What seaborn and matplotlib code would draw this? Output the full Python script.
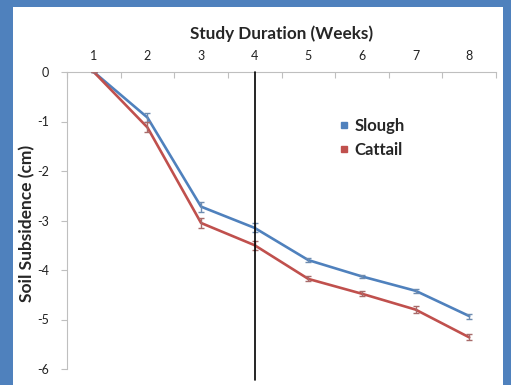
import numpy as np
import pandas as pd
import seaborn as sns
import matplotlib
matplotlib.use("Agg")
import matplotlib.pyplot as plt
from matplotlib.lines import Line2D
from matplotlib.patches import Rectangle

weeks = [1, 2, 3, 4, 5, 6, 7, 8]
slough = [0.0, -0.92, -2.72, -3.15, -3.80, -4.13, -4.42, -4.93]
cattail = [0.0, -1.12, -3.05, -3.50, -4.18, -4.48, -4.80, -5.36]
slough_err = [0.0, 0.10, 0.10, 0.09, 0.04, 0.03, 0.04, 0.05]
cattail_err = [0.0, 0.10, 0.10, 0.09, 0.05, 0.05, 0.07, 0.06]
y_ticks = [0, -1, -2, -3, -4, -5, -6]
series_names = ["Slough", "Cattail"]
colors = {"Slough": "#4F81BD", "Cattail": "#C0504D"}
err_colors = {"Slough": "#6E8CB0", "Cattail": "#A86B6A"}

sns.set_style("white")
plt.rcParams['font.family'] = ['Lato', 'DejaVu Sans']
plt.rcParams['axes.unicode_minus'] = False

df = pd.DataFrame({
    "Week": weeks * 2,
    "Subsidence": slough + cattail,
    "Err": slough_err + cattail_err,
    "Site": ["Slough"] * len(weeks) + ["Cattail"] * len(weeks),
})

fig = plt.figure(figsize=(5.11, 3.85), dpi=100)
fig.patch.set_facecolor("#4F81BD")
fig.patches.append(Rectangle((13 / 511, 0), (503 - 13) / 511, 1 - 7 / 385,
                             transform=fig.transFigure, facecolor="white",
                             edgecolor="none", zorder=-10))

ax = fig.add_axes([67 / 511, 1 - 369 / 385, (496 - 67) / 511, (369 - 72) / 385])
ax.set_facecolor("none")

sns.lineplot(data=df, x="Week", y="Subsidence", hue="Site", palette=colors,
             hue_order=series_names, linewidth=1.9, ax=ax, legend=False, zorder=3)
for name in series_names:
    sub = df[df.Site == name]
    ax.errorbar(sub.Week, sub.Subsidence, yerr=sub.Err, fmt="none",
                ecolor=err_colors[name], elinewidth=1, capsize=2.5, capthick=1, zorder=4)

ax.axvline(4, ymin=-0.037, ymax=1, color="black", linewidth=1.2, clip_on=False, zorder=5)

ax.set_xlim(0.5, 8.5)
ax.set_ylim(-6, 0)
ax.xaxis.tick_top()
ax.xaxis.set_label_position("top")
ax.set_xticks(weeks)
ax.set_xticklabels([str(w) for w in weeks], fontsize=9, color="#222222")
ax.set_xticks(np.arange(0.5, 9, 1), minor=True)
ax.tick_params(axis="x", which="major", length=0, pad=7)
ax.tick_params(axis="x", which="minor", length=4, direction="in", color="#BFBFBF", width=0.8)
ax.set_yticks(y_ticks)
ax.set_yticklabels([str(v) for v in y_ticks], fontsize=9, color="#222222")
ax.tick_params(axis="y", which="major", length=4, direction="out", color="#BFBFBF", width=0.8, pad=9, left=True)

for s in ["right", "bottom"]:
    ax.spines[s].set_visible(False)
for s in ["left", "top"]:
    ax.spines[s].set_color("#BFBFBF")
    ax.spines[s].set_linewidth(0.8)

ax.set_xlabel("Study Duration (Weeks)", fontsize=12.3, fontweight="bold", labelpad=8)
ax.set_ylabel("Soil Subsidence (cm)", fontsize=12.5, fontweight="bold")
ax.yaxis.set_label_coords(-0.074, 0.49)

handles = [Line2D([], [], marker="s", linestyle="none", markersize=5,
                  markerfacecolor=colors[n], markeredgecolor=colors[n]) for n in series_names]
ax.legend(handles, series_names, loc="upper left", bbox_to_anchor=(0.60, 0.895),
          frameon=False, prop={"weight": "bold", "size": 12}, handlelength=0.6,
          handletextpad=0.3, labelspacing=0.45)

fig.savefig("out.png", dpi=100, facecolor=fig.get_facecolor())
